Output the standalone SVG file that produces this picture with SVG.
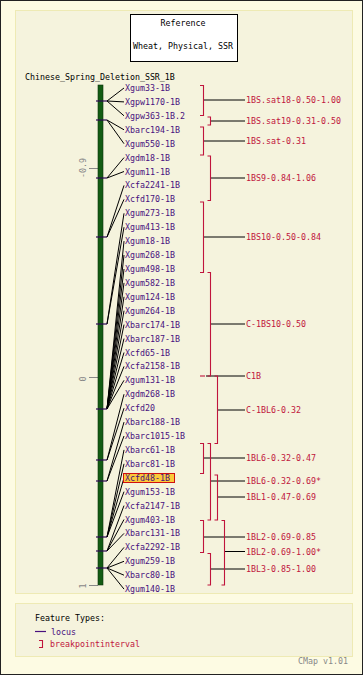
<svg xmlns="http://www.w3.org/2000/svg" width="363" height="675" viewBox="0 0 363 675">
<style>
.lab{font-family:"DejaVu Sans Mono","Liberation Mono",monospace;font-size:8.3px;fill:#48107e}
.bin{font-family:"DejaVu Sans Mono","Liberation Mono",monospace;font-size:8.3px;fill:#c0143c}
.blk{font-family:"DejaVu Sans Mono","Liberation Mono",monospace;font-size:8.3px;fill:#000}
.scl{font-family:"DejaVu Sans Mono","Liberation Mono",monospace;font-size:8.3px;fill:#888}
.con line{stroke:#000;stroke-width:1}
.br{fill:none;stroke:#c0143c;stroke-width:1.1}
.tk{stroke:#2a0850;stroke-width:1.2}
</style>
<rect x="0.5" y="0.5" width="362" height="674" fill="#fdfbe3" stroke="#222"/>
<rect x="15.5" y="10.5" width="337" height="583" fill="#f5f3dd" stroke="#eeeab4"/>
<rect x="15.5" y="603.5" width="337" height="53" fill="#f5f3dd" stroke="#eeeab4"/>
<g id="reference">
<rect x="130.5" y="14.5" width="107" height="47" fill="#fff" stroke="#000"/>
<text class="blk" x="183" y="25.5" text-anchor="middle">Reference</text>
<text class="blk" x="183" y="49" text-anchor="middle">Wheat, Physical, SSR</text>
</g>
<text class="blk" x="25" y="80">Chinese_Spring_Deletion_SSR_1B</text>
<g id="scale">
<line x1="89" y1="168.5" x2="98" y2="168.5" stroke="#888"/>
<line x1="89" y1="377.5" x2="98" y2="377.5" stroke="#888"/>
<line x1="89" y1="585.5" x2="98" y2="585.5" stroke="#888"/>
<text class="scl" transform="translate(86,168) rotate(-90)" text-anchor="middle">-0.9</text>
<text class="scl" transform="translate(86,379) rotate(-90)" text-anchor="middle">0</text>
<text class="scl" transform="translate(86,586) rotate(-90)" text-anchor="middle">1</text>
</g>
<g id="chromosome">
<rect x="98" y="85" width="5" height="500" fill="#135c13" stroke="#0b330b" stroke-width="0.6"/>
</g>
<g id="connectors" class="con">
<line x1="107" y1="101" x2="124" y2="88"/>
<line x1="107" y1="101" x2="124" y2="101.9"/>
<line x1="107" y1="101" x2="124" y2="115.8"/>
<line x1="107" y1="120" x2="124" y2="129.8"/>
<line x1="107" y1="120" x2="124" y2="143.7"/>
<line x1="107" y1="178" x2="124" y2="157.6"/>
<line x1="107" y1="178" x2="124" y2="171.5"/>
<line x1="107" y1="237" x2="124" y2="185.4"/>
<line x1="107" y1="237" x2="124" y2="199.4"/>
<line x1="107" y1="324" x2="124" y2="213.3"/>
<line x1="107" y1="324" x2="124" y2="227.2"/>
<line x1="107" y1="409" x2="124" y2="241.1"/>
<line x1="107" y1="409" x2="124" y2="255"/>
<line x1="107" y1="409" x2="124" y2="269"/>
<line x1="107" y1="409" x2="124" y2="282.9"/>
<line x1="107" y1="409" x2="124" y2="296.8"/>
<line x1="107" y1="409" x2="124" y2="310.7"/>
<line x1="107" y1="409" x2="124" y2="324.6"/>
<line x1="107" y1="409" x2="124" y2="338.6"/>
<line x1="107" y1="409" x2="124" y2="352.5"/>
<line x1="107" y1="409" x2="124" y2="366.4"/>
<line x1="107" y1="409" x2="124" y2="380.3"/>
<line x1="107" y1="460" x2="124" y2="394.2"/>
<line x1="107" y1="460" x2="124" y2="408.2"/>
<line x1="107" y1="481" x2="124" y2="422.1"/>
<line x1="107" y1="481" x2="124" y2="436"/>
<line x1="107" y1="537" x2="124" y2="449.9"/>
<line x1="107" y1="537" x2="124" y2="463.8"/>
<line x1="107" y1="537" x2="124" y2="477.8"/>
<line x1="107" y1="537" x2="124" y2="491.7"/>
<line x1="107" y1="551" x2="124" y2="505.6"/>
<line x1="107" y1="551" x2="124" y2="519.5"/>
<line x1="107" y1="551" x2="124" y2="533.4"/>
<line x1="107" y1="568" x2="124" y2="547.4"/>
<line x1="107" y1="568" x2="124" y2="561.3"/>
<line x1="107" y1="568" x2="124" y2="575.2"/>
<line x1="107" y1="568" x2="124" y2="589.1"/>
<line x1="203" y1="100" x2="245" y2="100"/>
<line x1="210.5" y1="121" x2="245" y2="121"/>
<line x1="203" y1="141" x2="245" y2="141"/>
<line x1="210.5" y1="178" x2="245" y2="178"/>
<line x1="203" y1="237" x2="245" y2="237"/>
<line x1="210.5" y1="324" x2="245" y2="324"/>
<line x1="206" y1="376" x2="245" y2="376"/>
<line x1="217.5" y1="410" x2="245" y2="410"/>
<line x1="203" y1="458" x2="245" y2="458"/>
<line x1="210.5" y1="481" x2="245" y2="481"/>
<line x1="217.5" y1="497" x2="245" y2="497"/>
<line x1="203" y1="537" x2="245" y2="537"/>
<line x1="224.5" y1="551.5" x2="245" y2="551.5"/>
<line x1="210.5" y1="569" x2="245" y2="569"/>
</g>
<g id="ticks">
<line class="tk" x1="96" y1="101" x2="107" y2="101"/>
<line class="tk" x1="96" y1="120" x2="107" y2="120"/>
<line class="tk" x1="96" y1="178" x2="107" y2="178"/>
<line class="tk" x1="96" y1="237" x2="107" y2="237"/>
<line class="tk" x1="96" y1="324" x2="107" y2="324"/>
<line class="tk" x1="96" y1="409" x2="107" y2="409"/>
<line class="tk" x1="96" y1="460" x2="107" y2="460"/>
<line class="tk" x1="96" y1="481" x2="107" y2="481"/>
<line class="tk" x1="96" y1="537" x2="107" y2="537"/>
<line class="tk" x1="96" y1="551" x2="107" y2="551"/>
<line class="tk" x1="96" y1="568" x2="107" y2="568"/>
</g>
<g id="loci">
<g id="n0"><text class="lab" x="125" y="91">Xgum33-1B</text></g>
<g id="n1"><text class="lab" x="125" y="104.9">Xgpw1170-1B</text></g>
<g id="n2"><text class="lab" x="125" y="118.8">Xgpw363-1B.2</text></g>
<g id="n3"><text class="lab" x="125" y="132.8">Xbarc194-1B</text></g>
<g id="n4"><text class="lab" x="125" y="146.7">Xgum550-1B</text></g>
<g id="n5"><text class="lab" x="125" y="160.6">Xgdm18-1B</text></g>
<g id="n6"><text class="lab" x="125" y="174.5">Xgum11-1B</text></g>
<g id="n7"><text class="lab" x="125" y="188.4">Xcfa2241-1B</text></g>
<g id="n8"><text class="lab" x="125" y="202.4">Xcfd170-1B</text></g>
<g id="n9"><text class="lab" x="125" y="216.3">Xgum273-1B</text></g>
<g id="n10"><text class="lab" x="125" y="230.2">Xgum413-1B</text></g>
<g id="n11"><text class="lab" x="125" y="244.1">Xgum18-1B</text></g>
<g id="n12"><text class="lab" x="125" y="258">Xgum268-1B</text></g>
<g id="n13"><text class="lab" x="125" y="272">Xgum498-1B</text></g>
<g id="n14"><text class="lab" x="125" y="285.9">Xgum582-1B</text></g>
<g id="n15"><text class="lab" x="125" y="299.8">Xgum124-1B</text></g>
<g id="n16"><text class="lab" x="125" y="313.7">Xgum264-1B</text></g>
<g id="n17"><text class="lab" x="125" y="327.6">Xbarc174-1B</text></g>
<g id="n18"><text class="lab" x="125" y="341.6">Xbarc187-1B</text></g>
<g id="n19"><text class="lab" x="125" y="355.5">Xcfd65-1B</text></g>
<g id="n20"><text class="lab" x="125" y="369.4">Xcfa2158-1B</text></g>
<g id="n21"><text class="lab" x="125" y="383.3">Xgum131-1B</text></g>
<g id="n22"><text class="lab" x="125" y="397.2">Xgdm268-1B</text></g>
<g id="n23"><text class="lab" x="125" y="411.2">Xcfd20</text></g>
<g id="n24"><text class="lab" x="125" y="425.1">Xbarc188-1B</text></g>
<g id="n25"><text class="lab" x="125" y="439">Xbarc1015-1B</text></g>
<g id="n26"><text class="lab" x="125" y="452.9">Xbarc61-1B</text></g>
<g id="n27"><text class="lab" x="125" y="466.8">Xbarc81-1B</text></g>
<g id="n28"><rect x="123.5" y="473.5" width="51" height="9" fill="#fbc93a" stroke="#d01010"/><text class="lab" x="125" y="480.8">Xcfd48-1B</text></g>
<g id="n29"><text class="lab" x="125" y="494.7">Xgum153-1B</text></g>
<g id="n30"><text class="lab" x="125" y="508.6">Xcfa2147-1B</text></g>
<g id="n31"><text class="lab" x="125" y="522.5">Xgum403-1B</text></g>
<g id="n32"><text class="lab" x="125" y="536.4">Xbarc131-1B</text></g>
<g id="n33"><text class="lab" x="125" y="550.4">Xcfa2292-1B</text></g>
<g id="n34"><text class="lab" x="125" y="564.3">Xgum259-1B</text></g>
<g id="n35"><text class="lab" x="125" y="578.2">Xbarc80-1B</text></g>
<g id="n36"><text class="lab" x="125" y="592.1">Xgum140-1B</text></g>
</g>
<g id="bins">
<g id="b1"><path class="br" d="M200,85.5H203.5V115.5H200"/><text class="bin" x="246" y="103">1BS.sat18-0.50-1.00</text></g>
<g id="b2"><path class="br" d="M207.5,117H210.5V125H207.5"/><text class="bin" x="246" y="124">1BS.sat19-0.31-0.50</text></g>
<g id="b3"><path class="br" d="M200,127H203.5V155H200"/><text class="bin" x="246" y="144">1BS.sat-0.31</text></g>
<g id="b4"><path class="br" d="M207.5,156H210.5V200.5H207.5"/><text class="bin" x="246" y="181">1BS9-0.84-1.06</text></g>
<g id="b5"><path class="br" d="M200,202H203.5V272.5H200"/><text class="bin" x="246" y="240">1BS10-0.50-0.84</text></g>
<g id="b6"><path class="br" d="M207.5,272.5H210.5V376H207.5"/><text class="bin" x="246" y="327">C-1BS10-0.50</text></g>
<g id="b7"><path class="br" d="M200,376H205"/><text class="bin" x="246" y="379">C1B</text></g>
<g id="b8"><path class="br" d="M214.5,376H217.5V443.5H214.5"/><text class="bin" x="246" y="413">C-1BL6-0.32</text></g>
<g id="b9"><path class="br" d="M200,443.5H203.5V473.5H200"/><text class="bin" x="246" y="461">1BL6-0.32-0.47</text></g>
<g id="b10"><path class="br" d="M207.5,443.5H210.5V520H207.5"/><text class="bin" x="246" y="484">1BL6-0.32-0.69*</text></g>
<g id="b11"><path class="br" d="M214.5,475H217.5V520H214.5"/><text class="bin" x="246" y="500">1BL1-0.47-0.69</text></g>
<g id="b12"><path class="br" d="M200,520.5H203.5V552.5H200"/><text class="bin" x="246" y="540">1BL2-0.69-0.85</text></g>
<g id="b13"><path class="br" d="M221.5,520.5H224.5V585H221.5"/><text class="bin" x="246" y="554.5">1BL2-0.69-1.00*</text></g>
<g id="b14"><path class="br" d="M207.5,553.5H210.5V585H207.5"/><text class="bin" x="246" y="572">1BL3-0.85-1.00</text></g>
</g>
<g id="legend">
<text class="blk" x="35" y="620.5">Feature Types:</text>
<line x1="35" y1="631.5" x2="46" y2="631.5" stroke="#48107e" stroke-width="1.2"/>
<text class="lab" x="51" y="634.5">locus</text>
<path class="br" d="M39,640.5H42.5V647.5H39"/>
<text class="bin" x="50" y="647">breakpointinterval</text>
</g>
<text class="scl" x="298" y="664" fill="#777">CMap v1.01</text>
</svg>
